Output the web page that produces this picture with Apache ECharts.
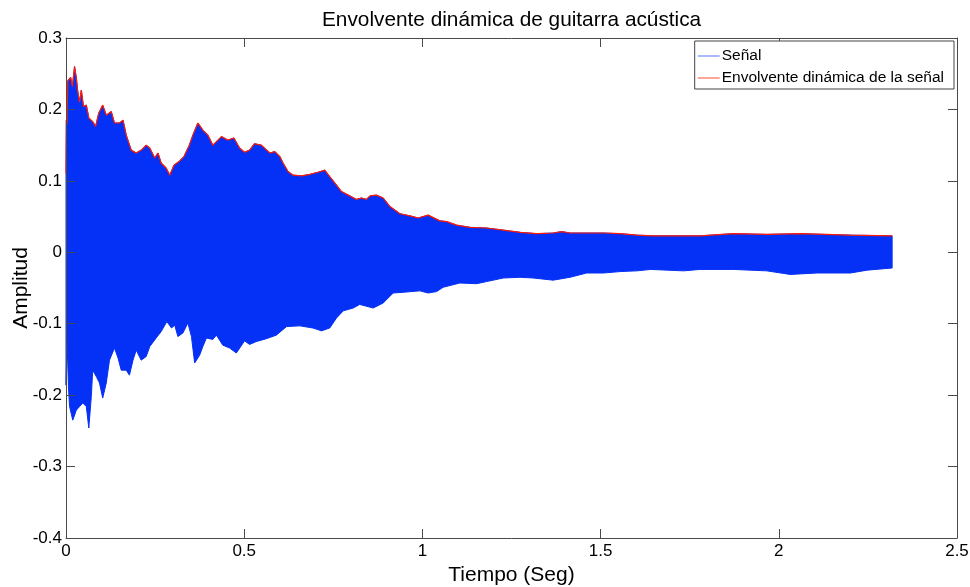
<!DOCTYPE html>
<html>
<head>
<meta charset="utf-8">
<script src="https://cdn.jsdelivr.net/npm/echarts@6/dist/echarts.min.js"></script>
<style>html,body{margin:0;padding:0;background:#fff;}#chart{width:970px;height:587px;}</style>
</head>
<body>
<div id="chart"></div>
<script>
// Time (s) and upper envelope of the signal (also the dynamic envelope)
var timeUpper = [0.000,0.001,0.003,0.005,0.013,0.018,0.024,0.029,0.033,0.038,0.043,0.049,0.057,0.064,0.075,0.083,0.092,0.103,0.113,0.127,0.136,0.150,0.160,0.169,0.183,0.197,0.211,0.225,0.235,0.249,0.258,0.267,0.281,0.291,0.303,0.317,0.331,0.346,0.356,0.370,0.384,0.398,0.412,0.436,0.454,0.471,0.487,0.501,0.515,0.529,0.548,0.572,0.586,0.600,0.609,0.623,0.637,0.661,0.684,0.707,0.726,0.740,0.759,0.773,0.796,0.815,0.829,0.843,0.853,0.871,0.890,0.909,0.937,0.965,0.988,1.016,1.049,1.068,1.096,1.133,1.180,1.227,1.274,1.321,1.367,1.391,1.414,1.461,1.508,1.555,1.602,1.648,1.695,1.779,1.872,1.967,2.060,2.201,2.318];
var upperValues = [0.110,0.185,0.180,0.240,0.245,0.232,0.260,0.244,0.225,0.210,0.227,0.204,0.206,0.188,0.183,0.176,0.195,0.206,0.192,0.197,0.181,0.181,0.185,0.164,0.143,0.139,0.143,0.150,0.146,0.132,0.139,0.125,0.118,0.108,0.122,0.127,0.134,0.150,0.164,0.181,0.171,0.164,0.150,0.162,0.157,0.160,0.146,0.140,0.143,0.152,0.150,0.139,0.141,0.134,0.125,0.113,0.108,0.107,0.109,0.112,0.115,0.106,0.094,0.085,0.079,0.074,0.076,0.074,0.079,0.080,0.076,0.064,0.054,0.051,0.048,0.052,0.044,0.043,0.038,0.035,0.034,0.031,0.028,0.026,0.027,0.029,0.027,0.027,0.027,0.026,0.024,0.023,0.023,0.023,0.026,0.025,0.026,0.024,0.023];
// Time (s) and lower extent of the signal
var timeLower = [0.000,0.003,0.007,0.010,0.019,0.029,0.038,0.047,0.057,0.064,0.071,0.075,0.085,0.094,0.103,0.113,0.122,0.136,0.146,0.155,0.169,0.178,0.188,0.197,0.211,0.225,0.235,0.253,0.267,0.283,0.296,0.305,0.314,0.328,0.342,0.352,0.361,0.375,0.384,0.394,0.412,0.422,0.440,0.459,0.478,0.501,0.515,0.534,0.562,0.590,0.619,0.656,0.693,0.717,0.740,0.759,0.778,0.806,0.824,0.862,0.890,0.918,0.946,0.993,1.016,1.040,1.058,1.105,1.152,1.180,1.227,1.274,1.311,1.367,1.414,1.461,1.508,1.555,1.602,1.640,1.733,1.779,1.872,1.966,2.032,2.107,2.201,2.248,2.318];
var lowerValues = [-0.186,-0.125,-0.190,-0.216,-0.235,-0.221,-0.216,-0.211,-0.216,-0.246,-0.202,-0.165,-0.174,-0.183,-0.204,-0.183,-0.151,-0.134,-0.148,-0.165,-0.165,-0.172,-0.151,-0.137,-0.151,-0.146,-0.132,-0.120,-0.111,-0.097,-0.106,-0.102,-0.118,-0.113,-0.099,-0.118,-0.155,-0.144,-0.132,-0.120,-0.122,-0.116,-0.130,-0.134,-0.141,-0.124,-0.129,-0.125,-0.121,-0.116,-0.104,-0.103,-0.106,-0.110,-0.106,-0.092,-0.082,-0.078,-0.073,-0.078,-0.071,-0.057,-0.056,-0.054,-0.057,-0.055,-0.049,-0.043,-0.044,-0.041,-0.036,-0.035,-0.036,-0.039,-0.035,-0.029,-0.029,-0.027,-0.026,-0.024,-0.026,-0.024,-0.024,-0.026,-0.031,-0.029,-0.029,-0.025,-0.022];

var titleText = 'Envolvente dinámica de guitarra acústica';
var signalName = 'Señal';
var envName = 'Envolvente dinámica de la señal';
var xName = 'Tiempo (Seg)';
var yName = 'Amplitud';

function pairs(t, v) { return t.map(function (x, i) { return [x, v[i]]; }); }

var FONT = 'Liberation Sans, Arial, Helvetica, sans-serif';
var AX = '#4a4a4a';
var BLUE = '#0530F6';
var RED = '#FF1A00';

var upperPairs = pairs(timeUpper, upperValues);
var lowerPairs = pairs(timeLower, lowerValues);

var chart = echarts.init(document.getElementById('chart'), null, { renderer: 'canvas' });
var axisCommon = {
  type: 'value',
  z: 10,
  axisLine: { show: true, onZero: false, lineStyle: { color: AX, width: 1 } },
  axisTick: { show: true, inside: true, length: 9, lineStyle: { color: AX } },
  splitLine: { show: false }
};
chart.setOption({
  animation: false,
  backgroundColor: '#fff',
  title: {
    text: titleText, left: 317, top: 5,
    textStyle: { fontFamily: FONT, fontSize: 20.8, fontWeight: 'normal', color: '#000' }
  },
  legend: {
    data: [
      { name: signalName, itemStyle: { color: '#5a70f4' } },
      { name: envName, itemStyle: { color: '#ff4a30' } }
    ],
    orient: 'vertical', right: 16, top: 41,
    backgroundColor: '#fff', borderColor: '#444', borderWidth: 1, borderRadius: 0,
    padding: [7, 10, 3, 3], itemGap: 6, itemWidth: 22, itemHeight: 1,
    icon: 'rect', z: 20,
    textStyle: { fontFamily: FONT, fontSize: 15.5, color: '#000', padding: [0, 0, 0, -3] }
  },
  grid: { left: 66, right: 13, top: 38, bottom: 49, outerBoundsMode: 'none' },
  xAxis: [
    Object.assign({}, axisCommon, {
      min: 0, max: 2.5, interval: 0.5, position: 'bottom',
      name: xName, nameLocation: 'middle', nameGap: 27, nameMoveOverlap: false,
      nameTextStyle: { fontFamily: FONT, fontSize: 21, color: '#000' },
      axisLabel: { fontFamily: FONT, fontSize: 17, color: '#000', margin: 5 }
    }),
    Object.assign({}, axisCommon, {
      min: 0, max: 2.5, interval: 0.5, position: 'top',
      axisLabel: { show: false }
    })
  ],
  yAxis: [
    Object.assign({}, axisCommon, {
      min: -0.4, max: 0.3, interval: 0.1, position: 'left',
      name: yName, nameLocation: 'middle', nameGap: 34, nameMoveOverlap: false,
      nameTextStyle: { fontFamily: FONT, fontSize: 21, color: '#000' },
      axisLabel: { fontFamily: FONT, fontSize: 17, color: '#000', margin: 4 }
    }),
    Object.assign({}, axisCommon, {
      min: -0.4, max: 0.3, interval: 0.1, position: 'right',
      axisLabel: { show: false }
    })
  ],
  series: [
    {
      // signal: one filled band between its upper and lower extents
      name: signalName, type: 'custom', data: upperPairs, z: 2,
      itemStyle: { color: BLUE },
      renderItem: function (params, api) {
        if (params.dataIndex !== 0) return null;
        var pts = upperPairs.map(function (p) { return api.coord(p); });
        for (var i = lowerPairs.length - 1; i >= 0; i--) pts.push(api.coord(lowerPairs[i]));
        return {
          type: 'polygon',
          shape: { points: pts },
          style: { fill: BLUE, stroke: BLUE, lineWidth: 1 }
        };
      }
    },
    {
      name: envName, type: 'line', data: upperPairs,
      symbol: 'none', color: RED, lineStyle: { color: RED, width: 1.2 }, z: 4
    }
  ]
});
</script>
</body>
</html>
